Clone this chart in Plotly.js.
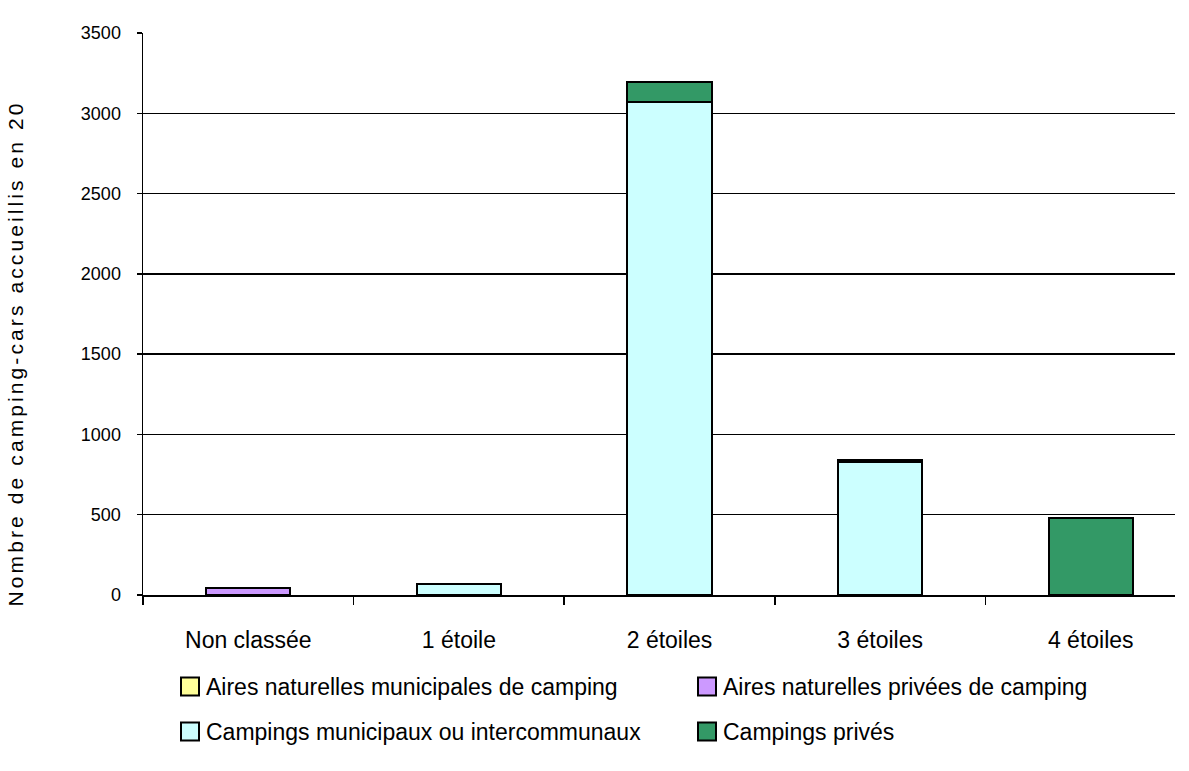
<!DOCTYPE html>
<html>
<head>
<meta charset="utf-8">
<script src="https://cdn.plot.ly/plotly-3.0.1.min.js"></script>
<style>
html,body{margin:0;padding:0;background:#fff;}
#chart{width:1189px;height:771px;}
#chart .annotation-text{letter-spacing:3.1px;}
#chart .legendpoints path{d:path("M13,9H-5V-9H13Z");}
</style>
</head>
<body>
<div id="chart"></div>
<script>
const categories = ["Non classée", "1 étoile", "2 étoiles", "3 étoiles", "4 étoiles"];
const seriesNames = ["Aires naturelles municipales de camping", "Aires naturelles privées de camping", "Campings municipaux ou intercommunaux", "Campings privés"];
const airesMunicipales = [0, 0, 0, 0, 0];
const airesPrivees = [45, 0, 0, 0, 0];
const campingsMunicipaux = [0, 68, 3070, 830, 0];
const campingsPrives = [0, 0, 125, 10, 480];
const yTicks = [0, 500, 1000, 1500, 2000, 2500, 3000, 3500];
const yTitle = "Nombre de camping-cars accueillis en 20";

const colors = ["#FFFF99", "#CC99FF", "#CCFFFF", "#339966"];
const values = [airesMunicipales, airesPrivees, campingsMunicipaux, campingsPrives];
const legendIds = ["legend", "legend2", "legend3", "legend4"];

const traces = values.map((v, i) => ({
  type: "bar",
  name: seriesNames[i],
  x: categories,
  y: v,
  width: 0.4,
  legend: legendIds[i],
  marker: {color: colors[i], line: {color: "#000", width: 2}},
  hoverinfo: "x+y+name"
}));

const W = 1189, H = 771;
const L = 143, R = 1175, T = 33, B = 595;
const px2x = p => (p - L) / (R - L);
const px2y = p => (B - p) / (B - T);

const legendFont = {size: 23, family: "Liberation Sans, Arial, sans-serif", color: "#000"};
function legendAt(leftPx, topPx) {
  return {
    orientation: "h",
    x: px2x(leftPx), xanchor: "left",
    y: px2y(topPx), yanchor: "top",
    font: legendFont,
    itemwidth: 30,
    bgcolor: "rgba(0,0,0,0)"
  };
}

const layout = {
  width: W, height: H,
  margin: {l: L, r: W - R, t: T, b: H - B, pad: 0, autoexpand: false},
  paper_bgcolor: "#fff",
  plot_bgcolor: "#fff",
  barmode: "stack",
  font: {family: "Liberation Sans, Arial, sans-serif", color: "#000"},
  showlegend: true,
  legend: legendAt(166, 665),
  legend2: legendAt(683, 665),
  legend3: legendAt(166, 710),
  legend4: legendAt(683, 710),
  xaxis: {
    type: "category",
    range: [-0.5, 4.4],
    showline: true, linecolor: "#000", linewidth: 1.5,
    ticks: "outside", tickson: "boundaries", ticklen: 8, tickcolor: "#000", tickwidth: 1.5,
    tickfont: {size: 23, color: "#000"},
    ticklabelstandoff: 24,
    showgrid: false,
    automargin: false,
    fixedrange: true
  },
  yaxis: {
    range: [0, 3500],
    tickvals: yTicks,
    ticktext: yTicks.map(String),
    showline: true, linecolor: "#000", linewidth: 1.5,
    ticks: "outside", ticklen: 5, tickcolor: "#000", tickwidth: 1.5,
    tickfont: {size: 18, color: "#000"},
    ticklabelstandoff: 12,
    showgrid: true, gridcolor: "#000", gridwidth: 1.5,
    zeroline: false,
    automargin: false,
    fixedrange: true
  },
  annotations: [{
    text: yTitle,
    textangle: -90,
    xref: "paper", yref: "paper",
    x: px2x(15), xanchor: "center",
    y: px2y(354), yanchor: "middle",
    showarrow: false,
    font: {size: 21, color: "#000", family: "Liberation Sans, Arial, sans-serif"}
  }]
};

Plotly.newPlot("chart", traces, layout, {displayModeBar: false, staticPlot: true});
</script>
</body>
</html>
